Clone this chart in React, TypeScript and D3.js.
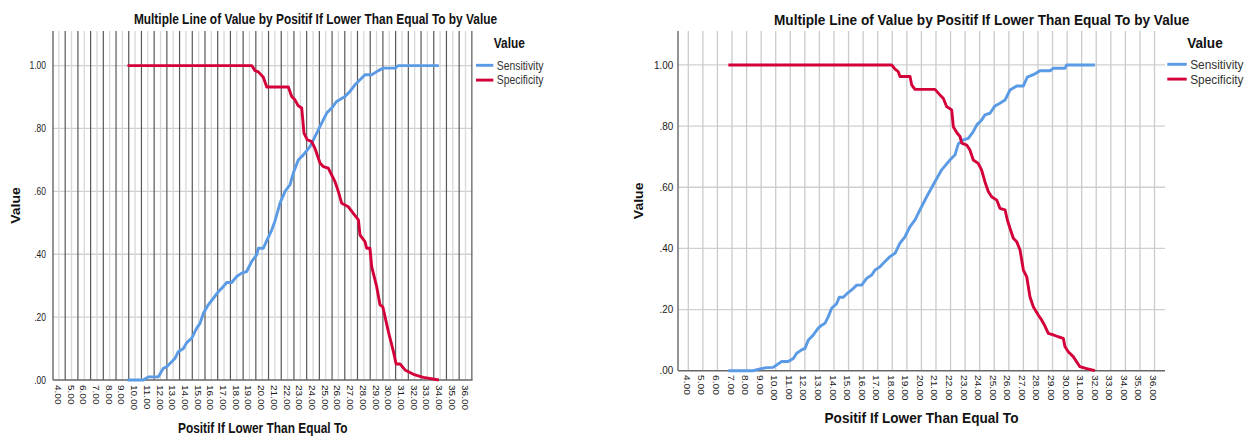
import React from 'react';
import * as d3 from 'd3';

// Cut-off values on the x axis and the two ROC-derived rates at each cut-off.
const seriesNames = ['Sensitivity', 'Specificity'];
const xTicks = d3.range(4, 37);
const yTicks = [0, 0.2, 0.4, 0.6, 0.8, 1.0];
const chartTitle = 'Multiple Line of Value by Positif If Lower Than Equal To by Value';
const xAxisTitle = 'Positif If Lower Than Equal To';
const yAxisTitle = 'Value';
const legendTitle = 'Value';

type Pt = [number, number];

const leftSensitivity: Pt[] = [
  [9.4, 0], [10.65, 0], [11.04, 0.01], [11.83, 0.01], [12.22, 0.037], [12.49, 0.042],
  [12.88, 0.058], [13.14, 0.069], [13.4, 0.09], [13.8, 0.1], [14.06, 0.119], [14.46, 0.133],
  [14.85, 0.165], [15.11, 0.18], [15.37, 0.212], [15.76, 0.239], [16.16, 0.26], [16.55, 0.281],
  [16.94, 0.297], [17.21, 0.31], [17.6, 0.31], [17.99, 0.329], [18.39, 0.34], [18.78, 0.345],
  [19.18, 0.377], [19.57, 0.398], [19.7, 0.419], [20.09, 0.419], [20.36, 0.443], [20.75, 0.477],
  [21.01, 0.506], [21.4, 0.562], [21.8, 0.6], [22.19, 0.621], [22.45, 0.658], [22.84, 0.7],
  [23.24, 0.716], [23.76, 0.742], [24.29, 0.785], [24.68, 0.817], [25.08, 0.849], [25.47, 0.865],
  [25.86, 0.886], [26.52, 0.902], [26.91, 0.918], [27.3, 0.939], [27.7, 0.955], [28.09, 0.971],
  [28.62, 0.971], [29.14, 0.984], [29.53, 0.992], [30.45, 0.992], [30.71, 1.0], [33.9, 1.0],
];

const leftSpecificity: Pt[] = [
  [9.4, 1], [19.18, 1], [19.44, 0.984], [19.7, 0.98], [20.09, 0.963], [20.36, 0.932],
  [22.06, 0.932], [22.32, 0.902], [22.58, 0.891], [22.84, 0.872], [23.11, 0.865], [23.29, 0.785],
  [23.55, 0.764], [23.9, 0.758], [24.15, 0.737], [24.55, 0.69], [24.81, 0.679], [25.2, 0.674],
  [25.47, 0.652], [25.73, 0.631], [25.99, 0.6], [26.26, 0.562], [26.78, 0.551], [27.17, 0.53],
  [27.57, 0.509], [27.7, 0.461], [28.09, 0.44], [28.22, 0.419], [28.48, 0.419], [28.62, 0.36],
  [29.01, 0.297], [29.27, 0.239], [29.49, 0.233], [29.93, 0.154], [30.33, 0.09], [30.54, 0.051],
  [30.85, 0.051], [31.24, 0.032], [31.9, 0.018], [32.68, 0.0085], [33.9, 0],
];

const rightSensitivity: Pt[] = [
  [6.75, 0], [8.46, 0], [8.92, 0.006], [9.38, 0.01], [9.83, 0.011], [10.07, 0.019],
  [10.41, 0.03], [10.86, 0.03], [11.21, 0.04], [11.44, 0.057], [11.78, 0.068], [12.01, 0.073],
  [12.24, 0.1], [12.58, 0.117], [12.92, 0.139], [13.16, 0.149], [13.38, 0.155], [13.61, 0.177],
  [13.84, 0.204], [14.19, 0.22], [14.36, 0.24], [14.64, 0.24], [14.87, 0.251], [15.21, 0.264],
  [15.56, 0.28], [15.9, 0.28], [16.24, 0.302], [16.59, 0.313], [16.81, 0.329], [17.16, 0.34],
  [17.5, 0.357], [17.84, 0.373], [18.19, 0.384], [18.53, 0.417], [18.87, 0.438], [19.22, 0.471],
  [19.56, 0.493], [19.9, 0.526], [20.36, 0.569], [20.93, 0.618], [21.39, 0.657], [21.96, 0.689],
  [22.31, 0.706], [22.53, 0.742], [22.88, 0.755], [23.22, 0.76], [23.56, 0.782], [23.8, 0.804],
  [24.14, 0.82], [24.36, 0.837], [24.71, 0.842], [25.05, 0.866], [25.39, 0.875], [25.74, 0.885],
  [26.08, 0.918], [26.54, 0.931], [26.99, 0.931], [27.27, 0.96], [27.8, 0.971], [28.14, 0.981],
  [28.83, 0.981], [29.05, 0.989], [29.85, 0.989], [29.97, 1.0], [31.91, 1.0],
];

const rightSpecificity: Pt[] = [
  [6.75, 1], [17.96, 1], [18.19, 0.986], [18.41, 0.978], [18.53, 0.962], [19.22, 0.962],
  [19.33, 0.935], [19.56, 0.92], [20.93, 0.92], [21.27, 0.902], [21.5, 0.891], [21.73, 0.864],
  [22.08, 0.853], [22.19, 0.798], [22.42, 0.779], [22.65, 0.766], [22.77, 0.744], [23.11, 0.738],
  [23.33, 0.722], [23.56, 0.689], [23.9, 0.678], [24.13, 0.657], [24.36, 0.618], [24.59, 0.586],
  [24.82, 0.569], [25.17, 0.558], [25.39, 0.531], [25.74, 0.526], [25.9, 0.493], [26.08, 0.466],
  [26.31, 0.433], [26.54, 0.422], [26.77, 0.395], [27.0, 0.329], [27.23, 0.307], [27.45, 0.242],
  [27.68, 0.209], [28.02, 0.182], [28.25, 0.166], [28.48, 0.146], [28.71, 0.122], [29.05, 0.117],
  [29.39, 0.111], [29.74, 0.106], [29.85, 0.079], [30.08, 0.062], [30.42, 0.046], [30.88, 0.013],
  [31.34, 0.007], [31.91, 0],
];

const COLORS = ['#5b9be6', '#d3003a'];
const FONT = '"Liberation Sans", Arial, sans-serif';

const fmtX = d3.format('.2f');
const fmtY = (v: number) => d3.format('.2f')(v).replace(/^0/, '');

type Layout = {
  left: number; right: number; top: number; bottom: number;
  xDomain: [number, number]; yMax: number;
  sx: number;             // horizontal squeeze applied to glyphs
  halfLines: boolean;     // darker separators between categories
  titleX: number; titleY: number;
  xTitleY: number; yTitleX: number;
  yLabelX: number; xLabelY: number;
  tickFont: number;
  legX: number; legY: number; legLineW: number;
};

function T({ x, y, sx, rot, children, ...rest }: any) {
  const tf = `translate(${x},${y}) scale(${sx},1)` + (rot ? ` rotate(${rot})` : '');
  return (
    <text transform={tf} fontFamily={FONT} {...rest}>
      {children}
    </text>
  );
}

function Chart({ L, series }: { L: Layout; series: Pt[][] }) {
  const x = d3.scaleLinear().domain(L.xDomain).range([L.left, L.right]);
  const y = d3.scaleLinear().domain([0, L.yMax]).range([L.bottom, L.top]);
  const line = d3.line<Pt>().x((d) => x(d[0])).y((d) => y(d[1]));
  const half = L.halfLines ? d3.range(L.xDomain[0] + 0.96, L.xDomain[1] + 0.01, 1) : [];

  return (
    <g>
      {/* horizontal gridlines */}
      {yTicks.slice(1).map((t) => (
        <line key={'h' + t} x1={L.left} x2={L.right} y1={y(t)} y2={y(t)} stroke="#d0d0d0" strokeWidth={1.3} />
      ))}
      {/* vertical gridlines at each labelled cut-off */}
      {xTicks.map((t) => (
        <line key={'v' + t} x1={x(t)} x2={x(t)} y1={L.top} y2={L.bottom}
          stroke={L.halfLines ? '#d8d8d8' : '#cbcbcb'} strokeWidth={1.3} />
      ))}
      {half.map((t) => (
        <line key={'d' + t} x1={x(t)} x2={x(t)} y1={L.top} y2={L.bottom} stroke="#585858" strokeWidth={1.2} />
      ))}
      {/* axes */}
      <line x1={L.left} x2={L.left} y1={L.top} y2={L.bottom} stroke="#666" strokeWidth={1.4} />
      <line x1={L.left} x2={L.right} y1={L.bottom} y2={L.bottom} stroke="#666" strokeWidth={1.4} />

      {/* y tick labels */}
      {yTicks.map((t) => (
        <T key={'yl' + t} x={L.yLabelX} y={y(t)} sx={L.sx} textAnchor="end" dy="0.35em"
          fontSize={L.tickFont} fill="#1a1a1a">
          {fmtY(t)}
        </T>
      ))}
      {/* x tick labels, rotated */}
      {xTicks.map((t) => (
        <T key={'xl' + t} x={x(t) - 1} y={L.xLabelY} sx={L.sx} rot={90} dy="0.35em"
          fontSize={L.tickFont} fill="#1a1a1a">
          {fmtX(t)}
        </T>
      ))}

      {/* series lines */}
      {series.map((s, i) => (
        <path key={'s' + i} d={line(s) || ''} fill="none" stroke={COLORS[i]} strokeWidth={2.9}
          strokeLinejoin="round" />
      ))}

      {/* titles */}
      <T x={L.titleX} y={L.titleY} sx={L.sx} textAnchor="middle" fontSize={14} fontWeight="bold" fill="#111">
        {chartTitle}
      </T>
      <T x={(L.left + L.right) / 2} y={L.xTitleY} sx={L.sx} textAnchor="middle" fontSize={14} fontWeight="bold" fill="#111">
        {xAxisTitle}
      </T>
      <T x={L.yTitleX} y={(L.top + L.bottom) / 2} sx={L.sx} rot={-90} textAnchor="middle" fontSize={14} fontWeight="bold" fill="#111">
        {yAxisTitle}
      </T>

      {/* legend */}
      <T x={L.legX + L.legLineW + 0.5} y={48} sx={L.sx} fontSize={14} fontWeight="bold" fill="#111">
        {legendTitle}
      </T>
      {seriesNames.map((n, i) => (
        <g key={'lg' + n}>
          <line x1={L.legX} x2={L.legX + L.legLineW} y1={L.legY + i * 14.8} y2={L.legY + i * 14.8}
            stroke={COLORS[i]} strokeWidth={2.9} />
          <T x={L.legX + L.legLineW + 3.5} y={L.legY + i * 14.8} dy="0.36em" sx={L.sx} fontSize={12.2} fill="#333">
            {n}
          </T>
        </g>
      ))}
    </g>
  );
}

const leftLayout: Layout = {
  left: 53, right: 472.5, top: 31, bottom: 380,
  xDomain: [3.54, 36.55], yMax: 1.11, sx: 0.85, halfLines: true,
  titleX: 315.5, titleY: 24, xTitleY: 433, yTitleX: 19.5,
  yLabelX: 46, xLabelY: 385, tickFont: 10,
  legX: 476, legY: 65.3, legLineW: 17.3,
};

const rightLayout: Layout = {
  left: 678, right: 1165, top: 31, bottom: 370.7,
  xDomain: [3.293, 36.72], yMax: 1.111, sx: 0.972, halfLines: false,
  titleX: 981.7, titleY: 25, xTitleY: 423.3, yTitleX: 642.5,
  yLabelX: 673.3, xLabelY: 375, tickFont: 10.2,
  legX: 1167.3, legY: 64.3, legLineW: 19.4,
};

export default function App() {
  return (
    <svg width={1252} height={438} style={{ position: 'absolute', left: 0, top: 0, background: '#fff' }}>
      <rect width={1252} height={438} fill="#fff" />
      <Chart L={leftLayout} series={[leftSensitivity, leftSpecificity]} />
      <Chart L={rightLayout} series={[rightSensitivity, rightSpecificity]} />
    </svg>
  );
}
